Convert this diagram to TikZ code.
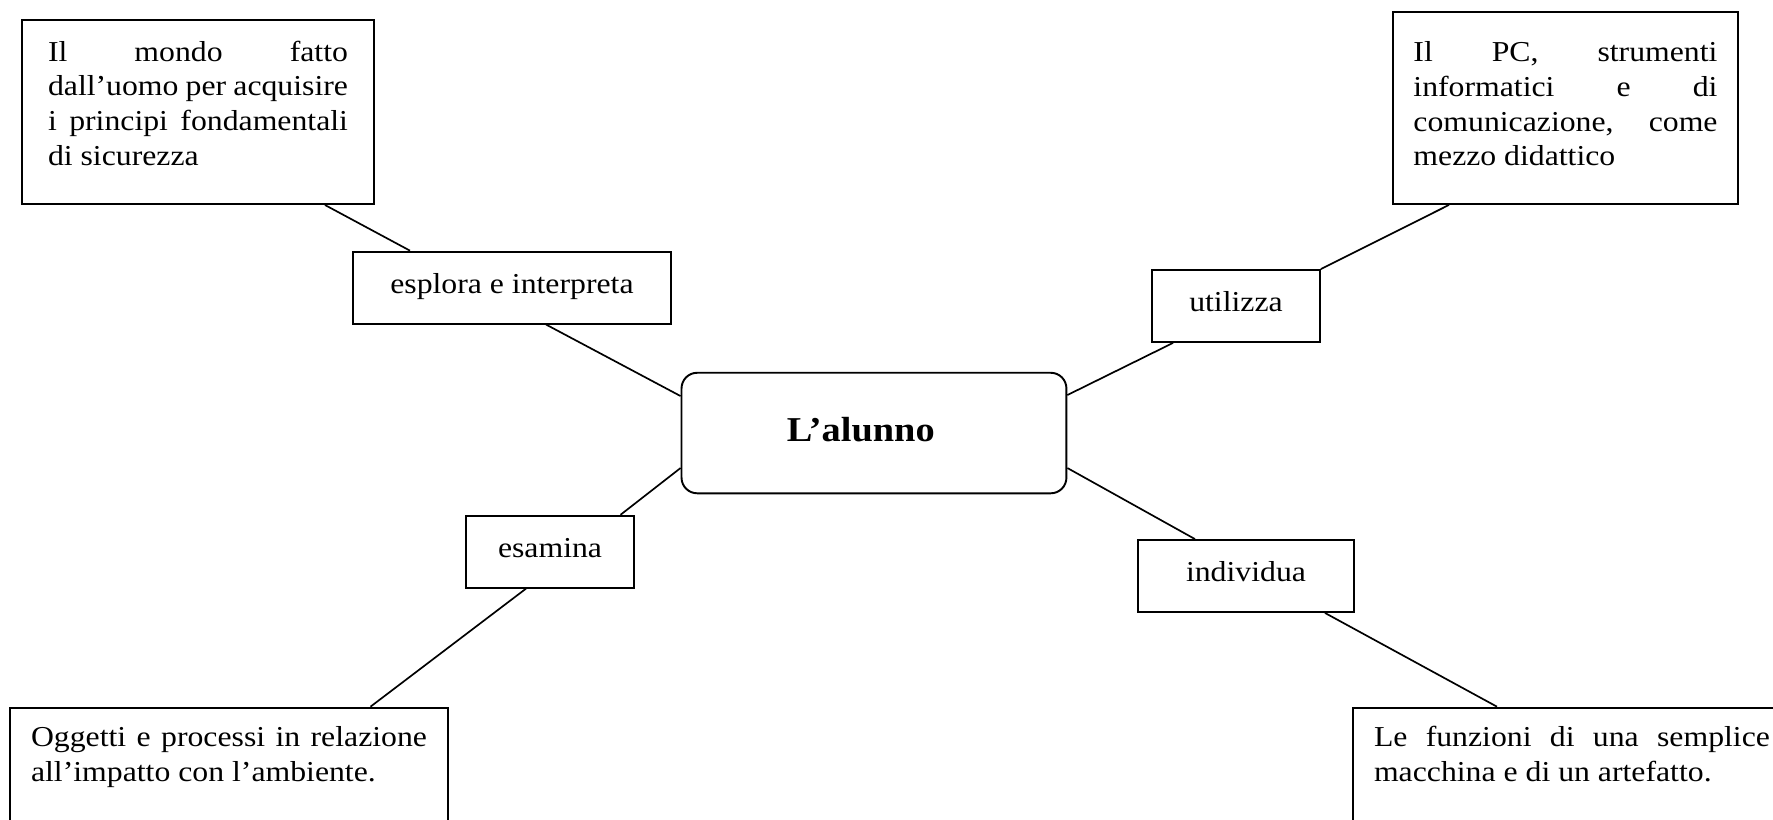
\documentclass[tikz,border=0pt]{standalone}
\usepackage{fontspec}
\setmainfont{Liberation Serif}[FakeStretch=1.1]

\tikzset{
    riquadro/.style={draw, line width=0.8pt, inner xsep=0pt},
    verbo/.style={draw, line width=0.8pt, minimum height=29.9pt, text height=8.5pt, text depth=4pt},
    collega/.style={line width=0.7pt}
}
\newcommand{\blocco}[3]{\parbox[c][#2][t]{#1}{\strut#3}}

\begin{document}
\begin{tikzpicture}[font=\fontsize{12}{14.4}\selectfont]
        \clip (0,0) rectangle (25.904,11.966);

        % Centre
        \node[draw, line width=0.8pt, rounded corners=6.5pt, minimum width=160pt, minimum height=50.1pt,
              font=\fontsize{14.5}{17}\selectfont\bfseries, text height=10pt, text depth=3pt] (alunno) at (12.769,5.639) {L’alunno\kern11pt};

        % Verbs
        \node[verbo, minimum width=132.2pt] (esplora) at (7.480,7.764) {esplora e interpreta};
        \node[verbo, minimum width=69.8pt] (utilizza) at (18.058,7.495) {utilizza};
        \node[verbo, minimum width=69.8pt] (esamina) at (8.036,3.905) {esamina};
        \node[verbo, minimum width=89.8pt] (individua) at (18.204,3.550) {individua};

        % Boxes
        \node[riquadro, inner ysep=7pt, minimum width=146.3pt] (mondo) at (2.893,10.329)
            {\blocco{124.7pt}{62.5pt}{Il mondo fatto\linebreak dall’uomo per acquisire\linebreak i principi fondamentali\linebreak di sicurezza}};
        \node[riquadro, inner ysep=10.7pt, minimum width=143.4pt] (pc) at (22.872,10.388)
            {\blocco{126.4pt}{58.4pt}{Il PC, strumenti\linebreak informatici e di\linebreak comunicazione, come\linebreak mezzo didattico}};
        \node[riquadro, inner ysep=6.1pt, minimum width=182.1pt] (oggetti) at (3.346,0.764)
            {\blocco{164.6pt}{36.9pt}{Oggetti e processi in relazione\linebreak all’impatto con l’ambiente.}};
        \node[riquadro, inner ysep=6.1pt, minimum width=182.1pt] (funzioni) at (22.967,0.764)
            {\blocco{164.6pt}{36.9pt}{Le funzioni di una semplice\linebreak macchina e di un artefatto.}};

        % Lines
        \draw[collega] ([xshift=1.855cm]mondo.south) -- ([xshift=-1.49cm]esplora.north);
        \draw[collega] ([xshift=0.497cm]esplora.south) -- ([yshift=0.54cm]alunno.west);
        \draw[collega] ([yshift=-0.511cm]alunno.west) -- ([xshift=1.03cm]esamina.north);
        \draw[collega] ([xshift=-0.351cm]esamina.south) -- ([xshift=2.067cm]oggetti.north);
        \draw[collega] ([yshift=0.555cm]alunno.east) -- ([xshift=-0.92cm]utilizza.south);
        \draw[collega] (utilizza.north east) -- ([xshift=-1.702cm]pc.south);
        \draw[collega] ([yshift=-0.511cm]alunno.east) -- ([xshift=-0.745cm]individua.north);
        \draw[collega] ([xshift=1.154cm]individua.south) -- ([xshift=-1.096cm]funzioni.north);

    \end{tikzpicture}
\end{document}
